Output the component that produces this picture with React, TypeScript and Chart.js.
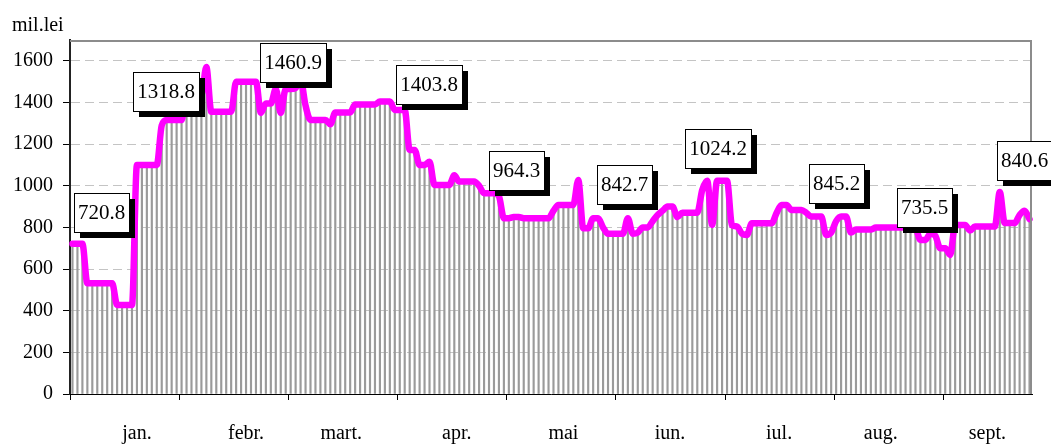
import React, { useEffect, useRef } from "react";
import { Chart, registerables } from "chart.js";

Chart.register(...registerables);

// Daily values (mil.lei), grouped in blocks of 22 trading days
const block1 = [721, 721, 721, 532, 532, 532, 532, 532, 532, 428, 428, 428, 428, 1100, 1100, 1100, 1100, 1100, 1290, 1316, 1316, 1316];
const block2 = [1316, 1435, 1435, 1435, 1435, 1570, 1355, 1355, 1355, 1355, 1355, 1500, 1500, 1500, 1500, 1500, 1350, 1395, 1395, 1465, 1350, 1465];
const block3 = [1465, 1470, 1511, 1385, 1316, 1316, 1316, 1316, 1295, 1352, 1352, 1352, 1352, 1390, 1390, 1390, 1390, 1390, 1405, 1405, 1405, 1364];
const block4 = [1364, 1364, 1172, 1172, 1100, 1100, 1115, 1004, 1004, 1004, 1004, 1050, 1020, 1020, 1020, 1020, 1000, 964, 964, 964, 950, 844];
const block5 = [844, 850, 850, 844, 844, 844, 844, 844, 844, 880, 908, 908, 908, 908, 1028, 796, 796, 844, 844, 800, 769, 769];
const block6 = [769, 769, 844, 769, 775, 800, 800, 830, 860, 880, 900, 900, 850, 871, 871, 871, 871, 980, 1024, 812, 1024, 1024];
const block7 = [1024, 810, 805, 770, 764, 820, 820, 820, 820, 820, 870, 908, 908, 884, 884, 884, 870, 852, 852, 852, 764, 775];
const block8 = [830, 852, 852, 775, 790, 790, 790, 790, 799, 799, 799, 799, 799, 799, 799, 799, 795, 740, 740, 770, 760, 700];
const block9 = [700, 668, 812, 812, 812, 785, 804, 804, 804, 804, 804, 970, 821, 821, 821, 860, 880, 840];

const values = [...block1, ...block2, ...block3, ...block4, ...block5, ...block6, ...block7, ...block8, ...block9];
const dayLabels = values.map((_, i) => String(i + 1));

const months = ["jan.", "febr.", "mart.", "apr.", "mai", "iun.", "iul.", "aug.", "sept."];
const monthAt = [13, 35, 54.2, 77.5, 99, 120.5, 142.5, 163, 184.5];

const yTicks = [0, 200, 400, 600, 800, 1000, 1200, 1400, 1600];

const noteTexts = ["720.8", "1318.8", "1460.9", "1403.8", "964.3", "842.7", "1024.2", "845.2", "735.5", "840.6"];
const noteAt = [5.85, 18.85, 44.46, 71.8, 89.5, 111.3, 130.1, 154.0, 171.8, 192.0];
const noteLevel = [872, 1452, 1591, 1488, 1071, 1004, 1179, 1011, 898, 1119];

const overlay = {
  id: "overlay",
  afterDatasetsDraw(chart: any) {
    const { ctx, chartArea: a, scales } = chart;
    const x = scales.x;
    const y = scales.y;
    ctx.save();
    // plot frame (top and right)
    ctx.strokeStyle = "#8c8c8c";
    ctx.lineWidth = 2;
    ctx.beginPath();
    ctx.moveTo(a.left, a.top + 1);
    ctx.lineTo(a.right - 1, a.top + 1);
    ctx.lineTo(a.right - 1, a.bottom);
    ctx.stroke();

    // x tick marks between groups
    const half = (x.getPixelForValue(1) - x.getPixelForValue(0)) / 2;
    ctx.strokeStyle = "#000";
    ctx.lineWidth = 1;
    ctx.beginPath();
    for (let k = 0; k < values.length; k += 22) {
      const px = Math.round(x.getPixelForValue(k) - half) + 0.5;
      ctx.moveTo(px, a.bottom);
      ctx.lineTo(px, a.bottom + 6);
    }
    ctx.stroke();

    // month labels
    ctx.fillStyle = "#000";
    ctx.font = '20px "Liberation Serif"';
    ctx.textAlign = "center";
    ctx.textBaseline = "alphabetic";
    months.forEach((m, i) => {
      ctx.fillText(m, x.getPixelForValue(monthAt[i]), a.bottom + 45);
    });

    // unit title
    ctx.textAlign = "left";
    ctx.fillText("mil.lei", 12, 31);

    // annotation boxes
    ctx.font = '21px "Liberation Serif"';
    noteTexts.forEach((t, i) => {
      const cx = x.getPixelForValue(noteAt[i]);
      const cy = y.getPixelForValue(noteLevel[i]);
      const w = Math.round(ctx.measureText(t).width + 8);
      const h = 39;
      const l = Math.round(cx - w / 2);
      const tp = Math.round(cy - h / 2);
      ctx.fillStyle = "#000";
      ctx.fillRect(l + 6, tp + 6, w, h);
      ctx.fillStyle = "#fff";
      ctx.fillRect(l, tp, w, h);
      ctx.strokeStyle = "#000";
      ctx.lineWidth = 1;
      ctx.strokeRect(l + 0.5, tp + 0.5, w, h);
      ctx.fillStyle = "#000";
      ctx.textAlign = "center";
      ctx.textBaseline = "middle";
      ctx.fillText(t, l + w / 2, tp + h / 2 + 1);
    });
    ctx.restore();
  },
};

export default function App() {
  const ref = useRef<HTMLCanvasElement | null>(null);
  useEffect(() => {
    if (!ref.current) return;
    Chart.defaults.font.family = '"Liberation Serif", serif';
    const chart = new Chart(ref.current, {
      type: "bar",
      data: {
        labels: dayLabels,
        datasets: [
          {
            type: "line",
            data: values,
            borderColor: "#ff00ff",
            borderWidth: 6.5,
            pointRadius: 0,
            cubicInterpolationMode: "monotone",
            borderJoinStyle: "round",
            borderCapStyle: "round",
            fill: false,
            order: 0,
          } as any,
          {
            type: "bar",
            data: values,
            backgroundColor: "#9a9a9a",
            barThickness: 1.5,
            order: 1,
          },
        ],
      },
      options: {
        responsive: false,
        animation: false,
        devicePixelRatio: 1,
        layout: { padding: { top: 40, right: 19, left: 0, bottom: 0 } },
        plugins: { legend: { display: false }, tooltip: { enabled: false } },
        scales: {
          x: {
            type: "category",
            offset: true,
            grid: { display: false, drawTicks: false },
            ticks: { display: false },
            border: { display: true, color: "#000", width: 1 },
            afterFit: (s: any) => {
              s.height = 50;
            },
          },
          y: {
            min: 0,
            max: 1700,
            afterBuildTicks: (s: any) => {
              s.ticks = yTicks.map((v) => ({ value: v }));
            },
            ticks: {
              color: "#000",
              font: { size: 20, family: '"Liberation Serif"' },
              padding: 10,
              callback: (v: any) => String(v),
            },
            grid: {
              color: "#c4c4c4",
              lineWidth: 1,
              tickLength: 7,
              tickColor: "#000",
              tickBorderDash: [],
            } as any,
            border: { display: true, color: "#222", width: 2, dash: [9, 5] } as any,
            afterFit: (s: any) => {
              s.width = 70;
            },
          },
        },
      },
      plugins: [overlay],
    });
    return () => chart.destroy();
  }, []);
  return (
    <div style={{ position: "fixed", left: 0, top: 0, width: 1051, height: 444, background: "#fff" }}>
      <canvas ref={ref} width={1051} height={444} />
    </div>
  );
}
